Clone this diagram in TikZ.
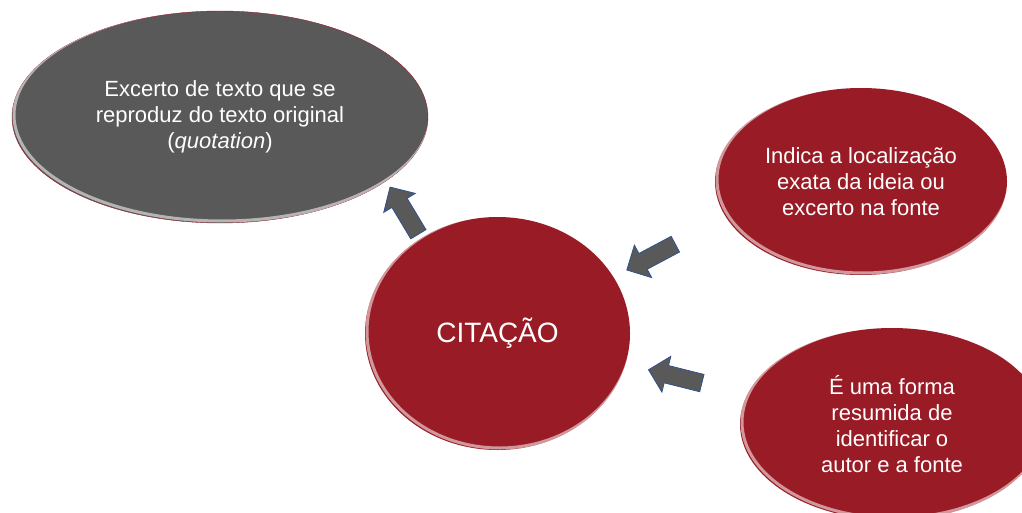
\documentclass[tikz,border=0pt]{standalone}
\usepackage{fontspec}
\setmainfont{Liberation Sans}
\usepackage{tikz}
\usetikzlibrary{shapes.geometric,shapes.arrows}
\definecolor{citred}{HTML}{991B25}
\definecolor{citgray}{HTML}{595959}
\definecolor{arrowblue}{HTML}{2F528F}
\tikzset{
	bubble/.style={ellipse, fill=citred, text=white, align=center, inner sep=0pt,
		font=\fontsize{22}{26}\selectfont},
	bigarrow/.style={single arrow, fill=citgray, draw=arrowblue, line width=0.8pt,
		inner sep=8.5pt, minimum height=55pt, single arrow head extend=9.5pt}
}
\newcommand{\bevel}[3]{%
	\begin{scope}
		\clip (#1) ellipse (#2 and #3);
		\draw[white, opacity=.55, line width=3pt] ([shift={(2,-2)}]#1) ellipse (#2 and #3);
	\end{scope}
}

\begin{document}
\begin{tikzpicture}[x=1pt, y=-1pt]
		\clip (0,0) rectangle (1022,513);
		\node[bubble, fill=citgray, draw=citred, minimum width=416pt, minimum height=212pt] (quote) at (220,117)
			{Excerto de texto que se\\reproduz do texto original\\(\textit{quotation})};
		\node[bubble, minimum width=292pt, minimum height=187pt] (local) at (861,181.5)
			{Indica a localização\\exata da ideia ou\\excerto na fonte};
		\node[bubble, minimum width=304pt, minimum height=192pt] (resumo) at (892,424)
			{É uma forma\\resumida de\\identificar o\\autor e a fonte};
		\node[bigarrow, rotate=121] (toquote) at (406.5,214.5) {};
		\node[bigarrow, rotate=208] (fromlocal) at (655,255) {};
		\node[bigarrow, rotate=166] (fromresumo) at (679.5,377.5) {};
		\node[bubble, minimum width=265pt, minimum height=233pt, font=\fontsize{28}{30}\selectfont] (citacao) at (497.5,333.5) {CITAÇÃO};
		\bevel{quote.center}{208}{106}
		\bevel{local.center}{146}{93.5}
		\bevel{resumo.center}{152}{96}
		\bevel{citacao.center}{132.5}{116.5}
	\end{tikzpicture}
\end{document}
